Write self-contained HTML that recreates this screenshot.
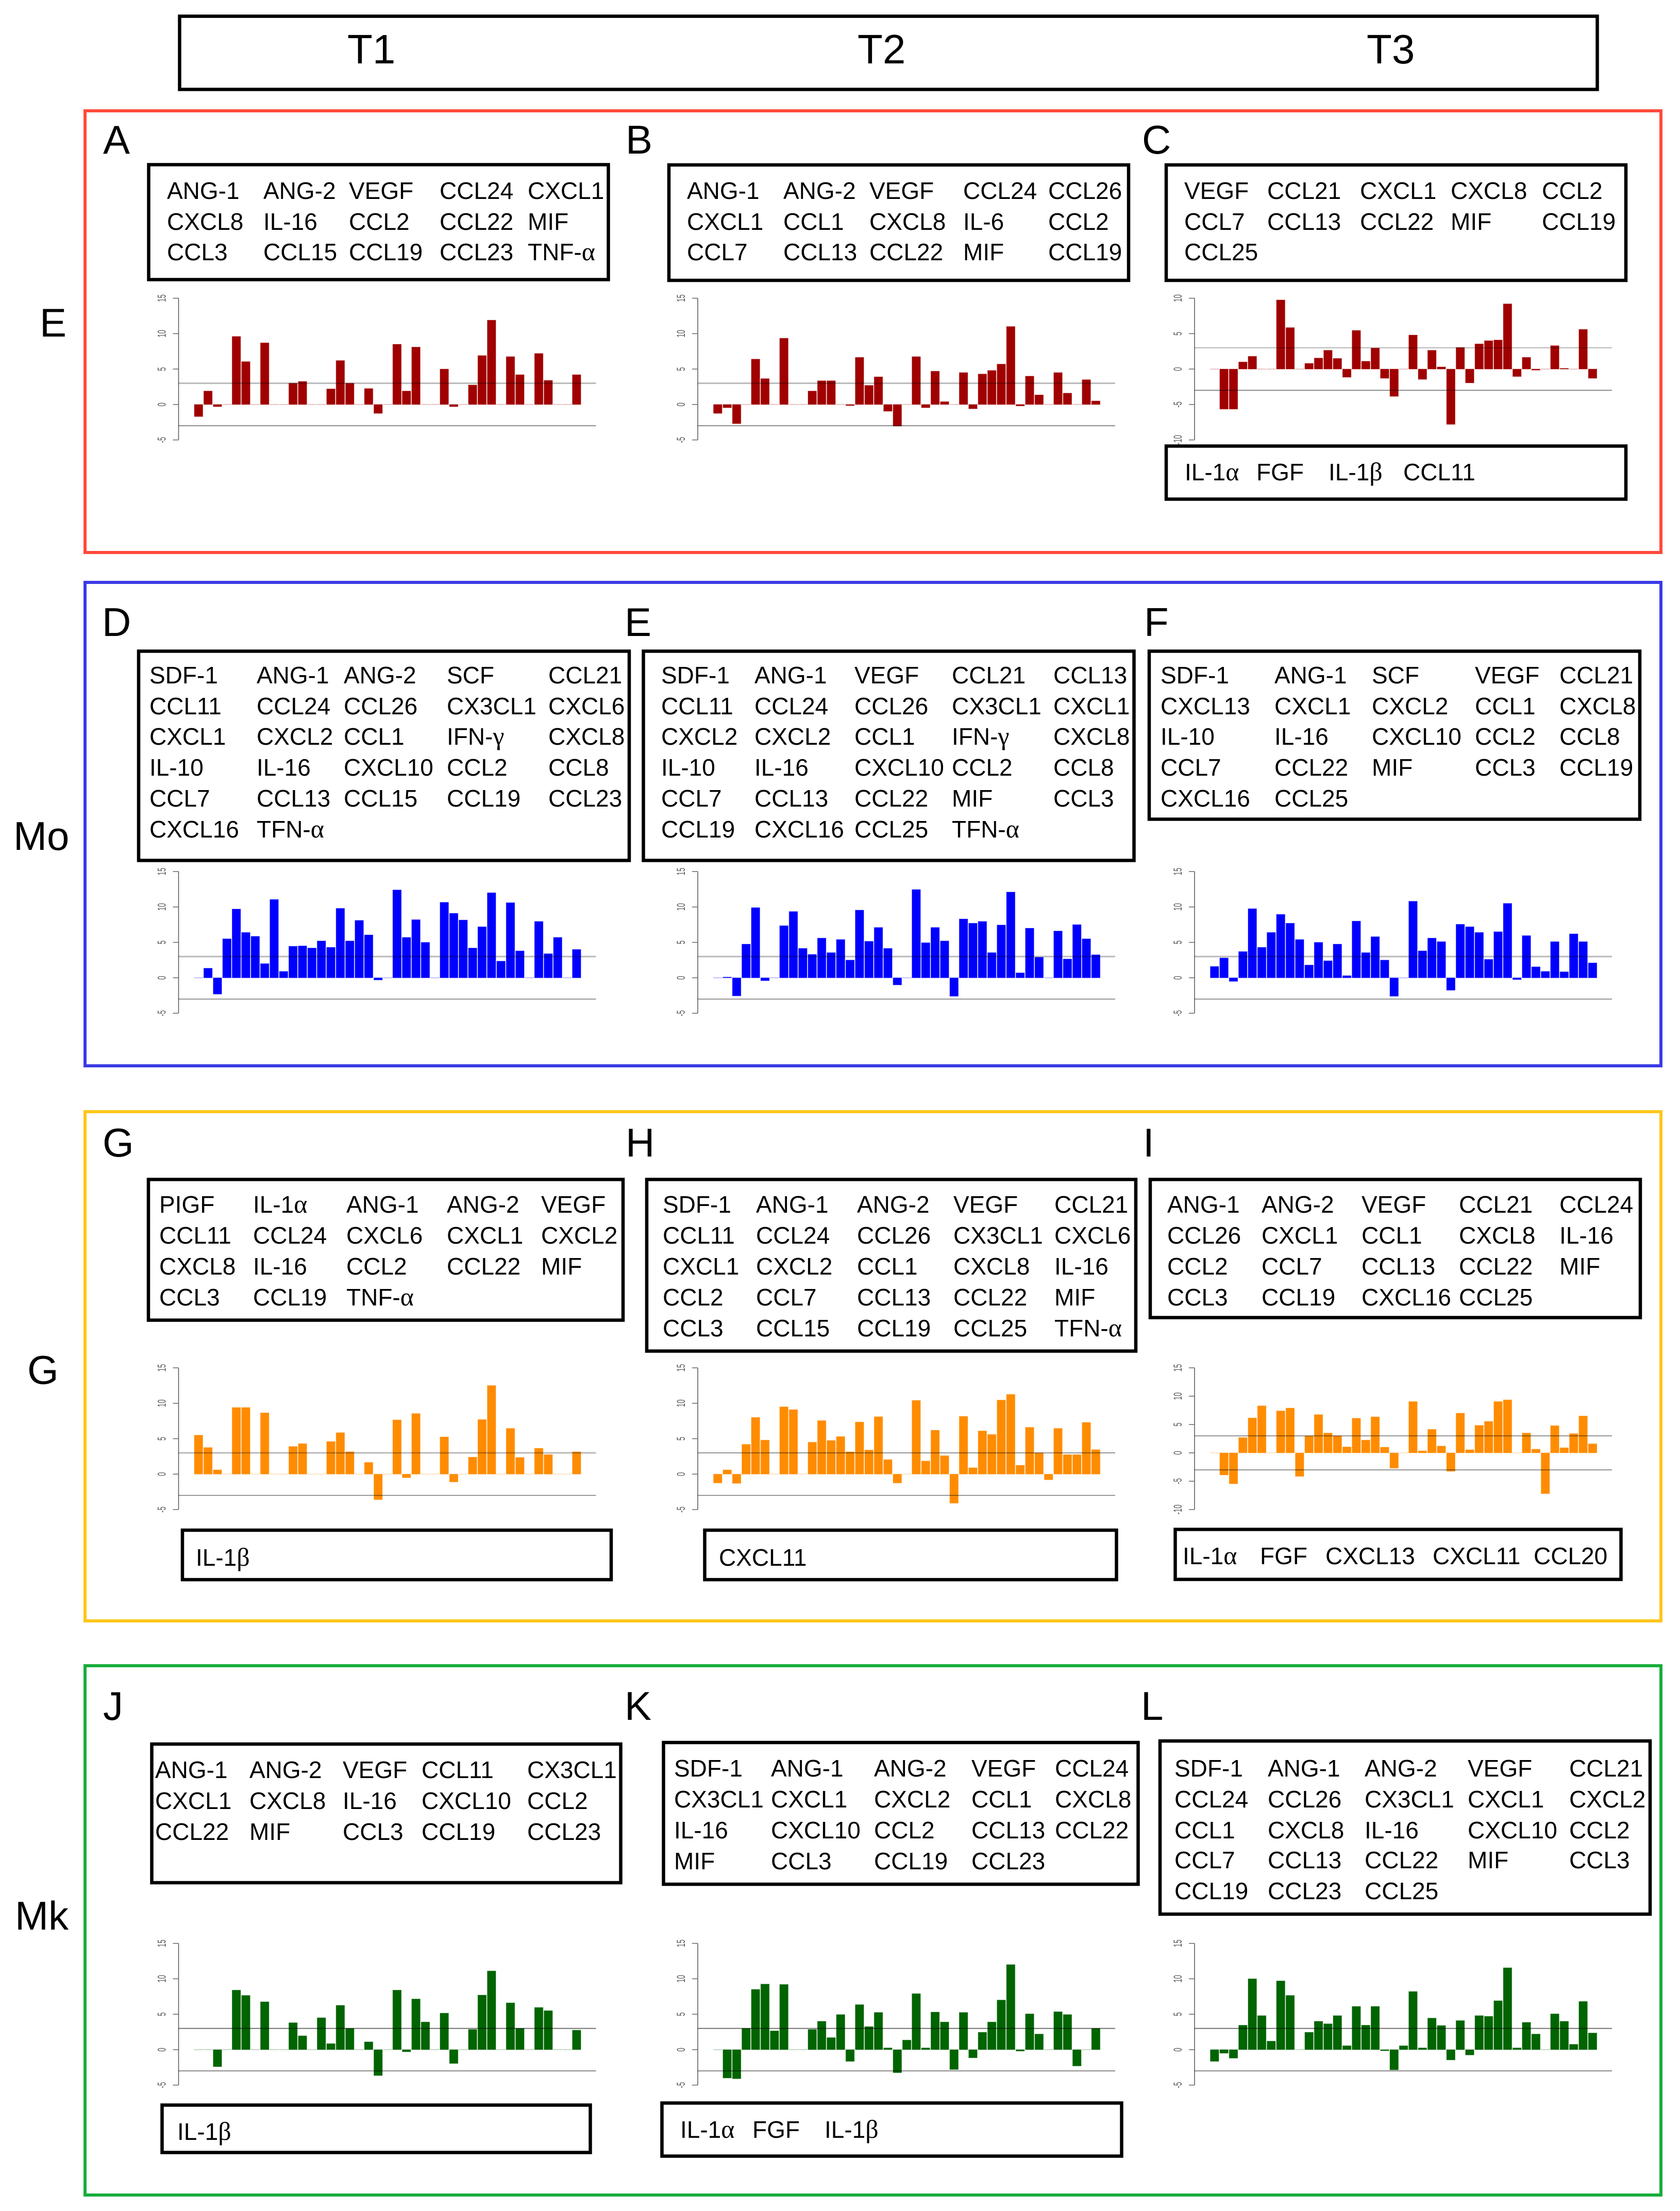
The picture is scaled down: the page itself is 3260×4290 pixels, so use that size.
<!DOCTYPE html>
<html lang="en">
<head>
<meta charset="utf-8">
<title>Cytokine expression bar charts</title>
<style>
html,body{margin:0;padding:0;background:#fff;width:3260px;height:4290px;overflow:hidden}
svg{display:block}
text{font-family:"Liberation Sans",sans-serif;fill:#000}
.c{font-size:46px}
.h{font-size:80px}
.l{font-size:78px}
.g{font-family:"Liberation Serif",serif;font-size:50px}
.box{fill:#fff;stroke:#000;stroke-width:6.5}
.panel{fill:none;stroke-width:6}
</style>
</head>
<body>
<svg id="figure" xmlns="http://www.w3.org/2000/svg" width="3260" height="4290" viewBox="0 0 3260 4290">
<rect x="0" y="0" width="3260" height="4290" fill="#fff"/>
<rect class="box" x="348.5" y="31.5" width="2751" height="142"/>
<text class="h" x="674" y="123">T1</text>
<text class="h" x="1664" y="123">T2</text>
<text class="h" x="2652" y="123">T3</text>

<rect class="panel" x="165" y="215" width="3058" height="857" stroke="#ff4a3c"/>
<rect class="panel" x="165" y="1130" width="3058" height="938" stroke="#3a3ae6"/>
<rect class="panel" x="165" y="2157" width="3058" height="988" stroke="#ffc61a"/>
<rect class="panel" x="165" y="3232" width="3058" height="1027" stroke="#18ad3c"/>

<text class="l" x="77" y="653">E</text>
<text class="l" x="26" y="1649">Mo</text>
<text class="l" x="53" y="2685">G</text>
<text class="l" x="29" y="3744">Mk</text>

<text class="l" x="200" y="298">A</text>
<text class="l" x="1214" y="298">B</text>
<text class="l" x="2216" y="298">C</text>
<text class="l" x="198" y="1234">D</text>
<text class="l" x="1212" y="1234">E</text>
<text class="l" x="2220" y="1234">F</text>
<text class="l" x="199" y="2244">G</text>
<text class="l" x="1214" y="2244">H</text>
<text class="l" x="2218" y="2244">I</text>
<text class="l" x="200" y="3337">J</text>
<text class="l" x="1212" y="3337">K</text>
<text class="l" x="2214" y="3337">L</text>

<g id="charts"></g>

<!-- A -->
<rect class="box" x="288.5" y="319.5" width="892" height="223"/>
<g class="c">
<text x="324" y="386">ANG-1</text>
<text x="511" y="386">ANG-2</text>
<text x="677" y="386">VEGF</text>
<text x="853" y="386">CCL24</text>
<text x="1024" y="386">CXCL1</text>
<text x="324" y="446">CXCL8</text>
<text x="511" y="446">IL-16</text>
<text x="677" y="446">CCL2</text>
<text x="853" y="446">CCL22</text>
<text x="1024" y="446">MIF</text>
<text x="324" y="505">CCL3</text>
<text x="511" y="505">CCL15</text>
<text x="677" y="505">CCL19</text>
<text x="853" y="505">CCL23</text>
<text x="1024" y="505">TNF-<tspan class="g">α</tspan></text>
</g>
<!-- B -->
<rect class="box" x="1298" y="320" width="892" height="224"/>
<g class="c">
<text x="1333" y="386">ANG-1</text>
<text x="1520" y="386">ANG-2</text>
<text x="1687" y="386">VEGF</text>
<text x="1869" y="386">CCL24</text>
<text x="2034" y="386">CCL26</text>
<text x="1333" y="446">CXCL1</text>
<text x="1520" y="446">CCL1</text>
<text x="1687" y="446">CXCL8</text>
<text x="1869" y="446">IL-6</text>
<text x="2034" y="446">CCL2</text>
<text x="1333" y="505">CCL7</text>
<text x="1520" y="505">CCL13</text>
<text x="1687" y="505">CCL22</text>
<text x="1869" y="505">MIF</text>
<text x="2034" y="505">CCL19</text>
</g>
<!-- C -->
<rect class="box" x="2263" y="320" width="892" height="224"/>
<g class="c">
<text x="2298" y="386">VEGF</text>
<text x="2459" y="386">CCL21</text>
<text x="2639" y="386">CXCL1</text>
<text x="2815" y="386">CXCL8</text>
<text x="2992" y="386">CCL2</text>
<text x="2298" y="446">CCL7</text>
<text x="2459" y="446">CCL13</text>
<text x="2639" y="446">CCL22</text>
<text x="2815" y="446">MIF</text>
<text x="2992" y="446">CCL19</text>
<text x="2298" y="505">CCL25</text>
</g>
<rect class="box" x="2263" y="865.5" width="892" height="103"/>
<g class="c">
<text x="2299" y="932">IL-1<tspan class="g">α</tspan></text>
<text x="2438" y="932">FGF</text>
<text x="2578" y="932">IL-1<tspan class="g">β</tspan></text>
<text x="2723" y="932">CCL11</text>
</g>
<!-- D -->
<rect class="box" x="269" y="1263.5" width="952" height="406"/>
<g class="c">
<text x="290" y="1326">SDF-1</text>
<text x="498" y="1326">ANG-1</text>
<text x="667" y="1326">ANG-2</text>
<text x="867" y="1326">SCF</text>
<text x="1064" y="1326">CCL21</text>
<text x="290" y="1386">CCL11</text>
<text x="498" y="1386">CCL24</text>
<text x="667" y="1386">CCL26</text>
<text x="867" y="1386">CX3CL1</text>
<text x="1064" y="1386">CXCL6</text>
<text x="290" y="1445">CXCL1</text>
<text x="498" y="1445">CXCL2</text>
<text x="667" y="1445">CCL1</text>
<text x="867" y="1445">IFN-<tspan class="g">γ</tspan></text>
<text x="1064" y="1445">CXCL8</text>
<text x="290" y="1505">IL-10</text>
<text x="498" y="1505">IL-16</text>
<text x="667" y="1505">CXCL10</text>
<text x="867" y="1505">CCL2</text>
<text x="1064" y="1505">CCL8</text>
<text x="290" y="1565">CCL7</text>
<text x="498" y="1565">CCL13</text>
<text x="667" y="1565">CCL15</text>
<text x="867" y="1565">CCL19</text>
<text x="1064" y="1565">CCL23</text>
<text x="290" y="1625">CXCL16</text>
<text x="498" y="1625">TFN-<tspan class="g">α</tspan></text>
</g>
<!-- E -->
<rect class="box" x="1248.5" y="1263.5" width="952" height="406"/>
<g class="c">
<text x="1283" y="1326">SDF-1</text>
<text x="1464" y="1326">ANG-1</text>
<text x="1658" y="1326">VEGF</text>
<text x="1847" y="1326">CCL21</text>
<text x="2044" y="1326">CCL13</text>
<text x="1283" y="1386">CCL11</text>
<text x="1464" y="1386">CCL24</text>
<text x="1658" y="1386">CCL26</text>
<text x="1847" y="1386">CX3CL1</text>
<text x="2044" y="1386">CXCL1</text>
<text x="1283" y="1445">CXCL2</text>
<text x="1464" y="1445">CXCL2</text>
<text x="1658" y="1445">CCL1</text>
<text x="1847" y="1445">IFN-<tspan class="g">γ</tspan></text>
<text x="2044" y="1445">CXCL8</text>
<text x="1283" y="1505">IL-10</text>
<text x="1464" y="1505">IL-16</text>
<text x="1658" y="1505">CXCL10</text>
<text x="1847" y="1505">CCL2</text>
<text x="2044" y="1505">CCL8</text>
<text x="1283" y="1565">CCL7</text>
<text x="1464" y="1565">CCL13</text>
<text x="1658" y="1565">CCL22</text>
<text x="1847" y="1565">MIF</text>
<text x="2044" y="1565">CCL3</text>
<text x="1283" y="1625">CCL19</text>
<text x="1464" y="1625">CXCL16</text>
<text x="1658" y="1625">CCL25</text>
<text x="1847" y="1625">TFN-<tspan class="g">α</tspan></text>
</g>
<!-- F -->
<rect class="box" x="2230" y="1263.5" width="952" height="326"/>
<g class="c">
<text x="2252" y="1326">SDF-1</text>
<text x="2473" y="1326">ANG-1</text>
<text x="2662" y="1326">SCF</text>
<text x="2862" y="1326">VEGF</text>
<text x="3026" y="1326">CCL21</text>
<text x="2252" y="1386">CXCL13</text>
<text x="2473" y="1386">CXCL1</text>
<text x="2662" y="1386">CXCL2</text>
<text x="2862" y="1386">CCL1</text>
<text x="3026" y="1386">CXCL8</text>
<text x="2252" y="1445">IL-10</text>
<text x="2473" y="1445">IL-16</text>
<text x="2662" y="1445">CXCL10</text>
<text x="2862" y="1445">CCL2</text>
<text x="3026" y="1445">CCL8</text>
<text x="2252" y="1505">CCL7</text>
<text x="2473" y="1505">CCL22</text>
<text x="2662" y="1505">MIF</text>
<text x="2862" y="1505">CCL3</text>
<text x="3026" y="1505">CCL19</text>
<text x="2252" y="1565">CXCL16</text>
<text x="2473" y="1565">CCL25</text>
</g>
<!-- G -->
<rect class="box" x="288" y="2288.5" width="921" height="273"/>
<g class="c">
<text x="309" y="2353">PIGF</text>
<text x="491" y="2353">IL-1<tspan class="g">α</tspan></text>
<text x="672" y="2353">ANG-1</text>
<text x="867" y="2353">ANG-2</text>
<text x="1050" y="2353">VEGF</text>
<text x="309" y="2413">CCL11</text>
<text x="491" y="2413">CCL24</text>
<text x="672" y="2413">CXCL6</text>
<text x="867" y="2413">CXCL1</text>
<text x="1050" y="2413">CXCL2</text>
<text x="309" y="2473">CXCL8</text>
<text x="491" y="2473">IL-16</text>
<text x="672" y="2473">CCL2</text>
<text x="867" y="2473">CCL22</text>
<text x="1050" y="2473">MIF</text>
<text x="309" y="2533">CCL3</text>
<text x="491" y="2533">CCL19</text>
<text x="672" y="2533">TNF-<tspan class="g">α</tspan></text>
</g>
<rect class="box" x="354" y="2969" width="832" height="96"/>
<text class="c" x="380" y="3038">IL-1<tspan class="g">β</tspan></text>
<!-- H -->
<rect class="box" x="1255" y="2288.5" width="949" height="333"/>
<g class="c">
<text x="1286" y="2353">SDF-1</text>
<text x="1467" y="2353">ANG-1</text>
<text x="1663" y="2353">ANG-2</text>
<text x="1850" y="2353">VEGF</text>
<text x="2046" y="2353">CCL21</text>
<text x="1286" y="2413">CCL11</text>
<text x="1467" y="2413">CCL24</text>
<text x="1663" y="2413">CCL26</text>
<text x="1850" y="2413">CX3CL1</text>
<text x="2046" y="2413">CXCL6</text>
<text x="1286" y="2473">CXCL1</text>
<text x="1467" y="2473">CXCL2</text>
<text x="1663" y="2473">CCL1</text>
<text x="1850" y="2473">CXCL8</text>
<text x="2046" y="2473">IL-16</text>
<text x="1286" y="2533">CCL2</text>
<text x="1467" y="2533">CCL7</text>
<text x="1663" y="2533">CCL13</text>
<text x="1850" y="2533">CCL22</text>
<text x="2046" y="2533">MIF</text>
<text x="1286" y="2593">CCL3</text>
<text x="1467" y="2593">CCL15</text>
<text x="1663" y="2593">CCL19</text>
<text x="1850" y="2593">CCL25</text>
<text x="2046" y="2593">TFN-<tspan class="g">α</tspan></text>
</g>
<rect class="box" x="1367.5" y="2969" width="799" height="96"/>
<text class="c" x="1395" y="3038">CXCL11</text>
<!-- I -->
<rect class="box" x="2232" y="2288.5" width="951" height="268"/>
<g class="c">
<text x="2265" y="2353">ANG-1</text>
<text x="2448" y="2353">ANG-2</text>
<text x="2642" y="2353">VEGF</text>
<text x="2831" y="2353">CCL21</text>
<text x="3026" y="2353">CCL24</text>
<text x="2265" y="2413">CCL26</text>
<text x="2448" y="2413">CXCL1</text>
<text x="2642" y="2413">CCL1</text>
<text x="2831" y="2413">CXCL8</text>
<text x="3026" y="2413">IL-16</text>
<text x="2265" y="2473">CCL2</text>
<text x="2448" y="2473">CCL7</text>
<text x="2642" y="2473">CCL13</text>
<text x="2831" y="2473">CCL22</text>
<text x="3026" y="2473">MIF</text>
<text x="2265" y="2533">CCL3</text>
<text x="2448" y="2533">CCL19</text>
<text x="2642" y="2533">CXCL16</text>
<text x="2831" y="2533">CCL25</text>
</g>
<rect class="box" x="2280.5" y="2967.5" width="865" height="97"/>
<g class="c">
<text x="2295" y="3035">IL-1<tspan class="g">α</tspan></text>
<text x="2445" y="3035">FGF</text>
<text x="2572" y="3035">CXCL13</text>
<text x="2780" y="3035">CXCL11</text>
<text x="2976" y="3035">CCL20</text>
</g>
<!-- J -->
<rect class="box" x="294.5" y="3384" width="910" height="269"/>
<g class="c">
<text x="301" y="3450">ANG-1</text>
<text x="484" y="3450">ANG-2</text>
<text x="665" y="3450">VEGF</text>
<text x="818" y="3450">CCL11</text>
<text x="1023" y="3450">CX3CL1</text>
<text x="301" y="3510">CXCL1</text>
<text x="484" y="3510">CXCL8</text>
<text x="665" y="3510">IL-16</text>
<text x="818" y="3510">CXCL10</text>
<text x="1023" y="3510">CCL2</text>
<text x="301" y="3570">CCL22</text>
<text x="484" y="3570">MIF</text>
<text x="665" y="3570">CCL3</text>
<text x="818" y="3570">CCL19</text>
<text x="1023" y="3570">CCL23</text>
</g>
<rect class="box" x="314.5" y="4084.5" width="831" height="92"/>
<text class="c" x="344" y="4152">IL-1<tspan class="g">β</tspan></text>
<!-- K -->
<rect class="box" x="1287.5" y="3381" width="921" height="275"/>
<g class="c">
<text x="1308" y="3447">SDF-1</text>
<text x="1496" y="3447">ANG-1</text>
<text x="1696" y="3447">ANG-2</text>
<text x="1885" y="3447">VEGF</text>
<text x="2047" y="3447">CCL24</text>
<text x="1308" y="3507">CX3CL1</text>
<text x="1496" y="3507">CXCL1</text>
<text x="1696" y="3507">CXCL2</text>
<text x="1885" y="3507">CCL1</text>
<text x="2047" y="3507">CXCL8</text>
<text x="1308" y="3567">IL-16</text>
<text x="1496" y="3567">CXCL10</text>
<text x="1696" y="3567">CCL2</text>
<text x="1885" y="3567">CCL13</text>
<text x="2047" y="3567">CCL22</text>
<text x="1308" y="3627">MIF</text>
<text x="1496" y="3627">CCL3</text>
<text x="1696" y="3627">CCL19</text>
<text x="1885" y="3627">CCL23</text>
</g>
<rect class="box" x="1284.5" y="4080.5" width="892" height="103"/>
<g class="c">
<text x="1320" y="4148">IL-1<tspan class="g">α</tspan></text>
<text x="1460" y="4148">FGF</text>
<text x="1600" y="4148">IL-1<tspan class="g">β</tspan></text>
</g>
<!-- L -->
<rect class="box" x="2251" y="3378" width="951" height="336"/>
<g class="c">
<text x="2279" y="3447">SDF-1</text>
<text x="2460" y="3447">ANG-1</text>
<text x="2648" y="3447">ANG-2</text>
<text x="2848" y="3447">VEGF</text>
<text x="3045" y="3447">CCL21</text>
<text x="2279" y="3507">CCL24</text>
<text x="2460" y="3507">CCL26</text>
<text x="2648" y="3507">CX3CL1</text>
<text x="2848" y="3507">CXCL1</text>
<text x="3045" y="3507">CXCL2</text>
<text x="2279" y="3567">CCL1</text>
<text x="2460" y="3567">CXCL8</text>
<text x="2648" y="3567">IL-16</text>
<text x="2848" y="3567">CXCL10</text>
<text x="3045" y="3567">CCL2</text>
<text x="2279" y="3625">CCL7</text>
<text x="2460" y="3625">CCL13</text>
<text x="2648" y="3625">CCL22</text>
<text x="2848" y="3625">MIF</text>
<text x="3045" y="3625">CCL3</text>
<text x="2279" y="3685">CCL19</text>
<text x="2460" y="3685">CCL23</text>
<text x="2648" y="3685">CCL25</text>
</g>
</svg>
<script>
var valuesA = [-1.7,1.9,-0.3,0,9.6,6.05,0,8.7,0,0,3.0,3.25,0,0,2.2,6.2,3.0,0,2.25,-1.25,0,8.5,1.9,8.1,0,0,5.0,-0.3,0,2.75,6.9,11.9,0,6.75,4.2,0,7.2,3.4,0,0,4.2];
var valuesB = [-1.25,-0.45,-2.7,0,6.4,3.65,0,9.35,0,0,1.9,3.35,3.35,0,-0.15,6.65,2.7,3.9,-0.95,-3.05,0,6.75,-0.45,4.7,0.4,0,4.5,-0.6,4.3,4.8,5.7,11.0,-0.2,4.0,1.35,0,4.5,1.6,0,3.5,0.5];
var valuesC = [0,-5.65,-5.65,1.0,1.8,0,0,9.75,5.85,0,0.8,1.55,2.65,1.5,-1.15,5.45,1.1,2.95,-1.3,-3.85,0,4.8,-1.45,2.65,0.3,-7.8,3.05,-1.95,3.55,4.0,4.1,9.2,-1.05,1.65,-0.15,0,3.3,0.1,0,5.6,-1.3];
var valuesD = [0,1.35,-2.3,5.5,9.7,6.4,5.85,2.0,11.05,0.9,4.45,4.5,4.2,5.2,4.3,9.8,5.2,8.1,6.05,-0.3,0,12.4,5.7,8.2,5.0,0,10.65,9.1,8.15,4.2,7.2,12.0,2.35,10.6,3.8,0,7.95,3.4,5.7,0,4.0];
var valuesE = [0,0.1,-2.55,4.75,9.9,-0.4,0,7.35,9.35,4.15,3.3,5.6,3.55,5.4,2.5,9.55,5.15,7.1,4.15,-1.0,0,12.45,4.95,7.1,5.2,-2.6,8.3,7.7,7.95,3.55,7.45,12.1,0.7,7.0,2.9,0,6.6,2.65,7.5,5.5,3.25];
var valuesF = [1.6,2.8,-0.5,3.7,9.75,4.3,6.4,8.95,7.7,5.4,1.8,5.0,2.4,4.75,0.3,8.0,3.55,5.8,2.5,-2.6,0,10.8,3.8,5.6,5.1,-1.75,7.55,7.2,6.4,2.6,6.5,10.5,-0.25,5.95,1.55,0.9,5.1,0.85,6.2,5.1,2.1];
var valuesG = [5.5,3.75,0.6,0,9.4,9.4,0,8.65,0,0,3.9,4.3,0,0,4.6,5.85,3.15,0,1.65,-3.6,0,7.65,-0.5,8.55,0,0,5.25,-1.1,0,2.4,7.7,12.5,0,6.45,2.35,0,3.65,2.75,0,0,3.15];
var valuesH = [-1.25,0.6,-1.3,4.2,8.0,4.8,0,9.5,9.1,0,4.5,7.55,4.75,5.3,3.15,7.35,3.4,8.1,2.05,-1.25,0,10.4,1.85,6.2,2.6,-4.1,8.15,0.9,6.1,5.6,10.45,11.25,1.25,6.6,3.0,-0.8,6.45,2.75,2.75,7.3,3.45];
var valuesI = [0,-3.9,-5.45,2.7,6.15,8.3,0,7.4,7.9,-4.15,3.0,6.75,3.5,3.0,1.05,6.1,2.25,6.35,1.0,-2.7,0,9.05,0.35,4.15,1.2,-3.25,7.0,0.55,4.85,5.55,9.05,9.35,0,3.5,0.65,-7.2,4.8,0.9,3.4,6.5,1.6];
var valuesJ = [0,0,-2.4,0,8.4,7.65,0,6.75,0,0,3.8,1.95,0,4.5,0.85,6.25,3.0,0,1.1,-3.65,0,8.4,-0.3,7.15,3.9,0,5.15,-1.95,0,2.85,7.7,11.1,0,6.6,3.0,0,5.95,5.5,0,0,2.75];
var valuesK = [0,-4.0,-4.1,3.0,8.5,9.25,2.65,9.2,0,0,2.85,4.0,1.7,4.95,-1.65,6.35,3.25,5.25,0.25,-3.25,1.35,7.9,0.25,5.3,3.9,-2.8,5.25,-1.15,2.45,3.9,7.0,12.0,-0.2,5.05,2.2,0,5.35,4.95,-2.3,0,3.0];
var valuesL = [-1.65,-0.5,-1.2,3.45,10.0,4.8,1.2,9.7,7.65,0,2.45,4.0,3.65,4.8,0.55,6.1,3.45,6.1,-0.15,-2.85,0.55,8.2,0.25,4.45,3.4,-1.45,4.1,-0.75,4.8,4.7,6.9,11.55,0.25,3.85,2.2,0,5.05,4.0,0.75,6.8,2.35];
var ticksStandard = [-5,0,5,10,15];
var ticksC = [-10,-5,0,5,10];
var ticksI = [-10,-5,0,5,10,15];
var thresholds = [3,-3];

var SVGNS = 'http://www.w3.org/2000/svg';
var PLOT_H = 275, PITCH = 18.34, BAR_W = 16.4, FIRST_OFFSET = 30.6, PLOT_W = 810;
var colAxis = [346.5, 1354, 2318];
var rowTop = [578.6, 1691, 2654, 3770.7];
var rowColor = ['#a00000', '#0000ff', '#ff8c00', '#006400'];

var charts = [
  {id:'a', values:valuesA, ticks:ticksStandard, col:0, row:0, upper:3},
  {id:'b', values:valuesB, ticks:ticksStandard, col:1, row:0, upper:3},
  {id:'c', values:valuesC, ticks:ticksC, col:2, row:0, upper:1},
  {id:'d', values:valuesD, ticks:ticksStandard, col:0, row:1, upper:3},
  {id:'e', values:valuesE, ticks:ticksStandard, col:1, row:1, upper:3},
  {id:'f', values:valuesF, ticks:ticksStandard, col:2, row:1, upper:3},
  {id:'g', values:valuesG, ticks:ticksStandard, col:0, row:2, upper:3},
  {id:'h', values:valuesH, ticks:ticksStandard, col:1, row:2, upper:1.5},
  {id:'i', values:valuesI, ticks:ticksI, col:2, row:2, upper:1.5},
  {id:'j', values:valuesJ, ticks:ticksStandard, col:0, row:3, upper:2},
  {id:'k', values:valuesK, ticks:ticksStandard, col:1, row:3, upper:2},
  {id:'l', values:valuesL, ticks:ticksStandard, col:2, row:3, upper:2}
];

function yScale(chart, v) {
  var lo = chart.ticks[0], hi = chart.ticks[chart.ticks.length - 1];
  return rowTop[chart.row] + (hi - v) / (hi - lo) * PLOT_H;
}
function xBand(chart, i) {
  return colAxis[chart.col] + FIRST_OFFSET + i * PITCH;
}
function node(tag, attrs, parent) {
  var el = document.createElementNS(SVGNS, tag);
  for (var k in attrs) el.setAttribute(k, attrs[k]);
  parent.appendChild(el);
  return el;
}

var root = document.getElementById('charts');
charts.forEach(function (chart) {
  var color = rowColor[chart.row];
  var ax = colAxis[chart.col];
  var g = node('g', {}, root);
  
  

  var axis = node('line', {x1: ax, x2: ax, y1: yScale(chart, chart.ticks[0]), y2: yScale(chart, chart.ticks[chart.ticks.length - 1]), stroke: '#555', 'stroke-width': 1.5}, g);
  
  

  chart.ticks.forEach(function (t) {
    var y = yScale(chart, t);
    var tick = node('line', {x1: ax - 11, x2: ax, y1: y, y2: y, stroke: '#666', 'stroke-width': 1.5}, g);
    
    
    var label = node('text', {transform: 'translate(' + (ax - 25) + ',' + y + ') rotate(-90) scale(0.6,1)', 'text-anchor': 'middle', 'font-size': 22, style: 'fill:#555'}, g);
    
    
    label.textContent = String(t);
  });

  var zero = yScale(chart, 0);
  chart.values.forEach(function (v, i) {
    var yv = yScale(chart, v);
    var bar = node('rect', {x: xBand(chart, i), y: Math.min(yv, zero), width: BAR_W, height: Math.max(Math.abs(yv - zero), 0.01), fill: color, stroke: color, 'stroke-opacity': 0.45, 'stroke-width': 1}, g);
    
    
  });

  thresholds.forEach(function (th, n) {
    var y = yScale(chart, th);
    var rule = node('line', {x1: ax, x2: ax + PLOT_W, y1: y, y2: y, stroke: n === 0 && chart.upper >= 3 ? 'rgba(0,0,0,0.27)' : 'rgba(0,0,0,0.55)', 'stroke-width': n === 0 ? chart.upper : 1.6}, g);
    
    
  });
});
</script>
</body>
</html>
